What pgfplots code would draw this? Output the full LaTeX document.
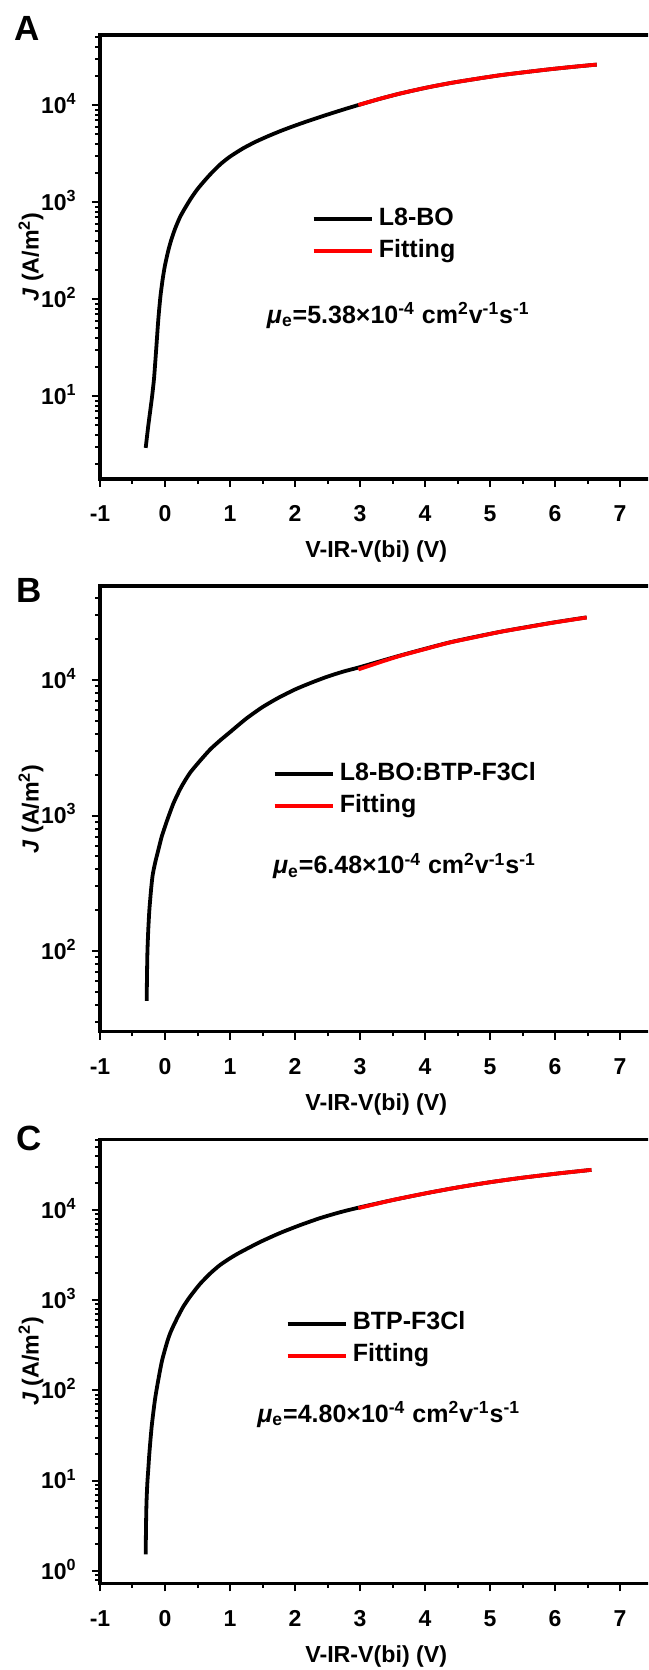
\documentclass[border=0pt]{standalone}
\usepackage{fontspec}
\setmainfont{Liberation Sans}
\usepackage{pgfplots}
\pgfplotsset{compat=1.18}
\definecolor{fitred}{RGB}{255,0,0}
\tikzset{
 datline/.style={black, line width=1.9pt},
 fitline/.style={fitred, line width=1.9pt},
 mu/.style={anchor=base west, inner sep=0pt, font=\fontsize{12.5}{15}\selectfont\bfseries},
 letter/.style={anchor=base west, inner sep=0pt, font=\fontsize{17.5}{20}\selectfont\bfseries},
}
\pgfplotsset{
 every axis/.append style={
  scale only axis, width=276.25pt,
  xmin=-1, xmax=7.5,
  axis line style={line width=1.7pt},
  tick align=outside, xtick pos=bottom, ytick pos=left,
  major tick length=4pt, minor tick length=2.3pt,
  every tick/.append style={black, line width=1pt},
  xtick={-1,0,1,2,3,4,5,6,7}, xticklabels={-1,0,1,2,3,4,5,6,7}, minor x tick num=1,
  tick label style={font=\fontsize{11.5}{14}\selectfont\bfseries},
  xticklabel style={anchor=base, inner sep=0pt, yshift=-17.5pt},
  yticklabel style={anchor=base east, inner sep=0pt, xshift=-7.5pt, yshift=-4.1pt},
  label style={font=\fontsize{11.6}{14}\selectfont\bfseries},
  xlabel={V-IR-V(bi) (V)},
  xlabel style={at={(axis description cs:0.5,0)}, anchor=base, yshift=-39.5pt},
  ylabel={\textit{J} (A/m\textsuperscript{2})},
  ylabel style={at={(axis description cs:-0.1250,0.5)}, anchor=center},
  legend cell align=left,
  legend style={draw=none, fill=none, inner sep=0pt, outer sep=0pt,
    font=\fontsize{12.5}{15}\selectfont\bfseries, row sep=4.9pt, column sep=2.6pt,
    nodes={inner sep=0pt, text height=8.6pt, text depth=2.5pt}, anchor=north west},
 },
 legend image code/.code={\draw[#1, line width=2pt] (0pt,0pt) -- (29pt,0pt);},
}
\begin{document}
\begin{tikzpicture}
\path[use as bounding box] (0,0) rectangle (324pt,835pt);
\clip (0,0) rectangle (324pt,835pt);
% ---------------- Panel A ----------------
\begin{axis}[at={(50pt,595.5pt)}, anchor=south west, height=222pt,
  ymode=log, ymin=1.4, ymax=53000,
  ytick={10,100,1000,10000},
  yticklabels={10\textsuperscript{1},10\textsuperscript{2},10\textsuperscript{3},10\textsuperscript{4}},
  minor ytick={2,3,4,5,6,7,8,9,20,30,40,50,60,70,80,90,200,300,400,500,600,700,800,900,2000,3000,4000,5000,6000,7000,8000,9000,20000,30000,40000,50000},
  legend style={at={(axis description cs:0.3832,0.6101)}}]
\addplot[datline, smooth, tension=0.4] coordinates {
(-0.297,2.931) (-0.26,4.786) (-0.231,6.761) (-0.20,9.772) (-0.169,15.14) (-0.138,28.84)
(-0.103,61.66) (-0.07,107.2) (-0.035,162.2) (0.0,223.9) (0.05,316.2) (0.10,416.9)
(0.16,543.3) (0.23,699.8) (0.30,851.1) (0.40,1096) (0.50,1365) (0.60,1641) (0.70,1950)
(0.85,2455) (1.0,2951) (1.2,3589) (1.4,4217) (1.6,4842) (1.8,5495) (2.0,6166) (2.2,6871)
(2.4,7621) (2.6,8414) (2.8,9268) (3.0,10162) (3.3,11614) (3.615,13183) (4.0,15066)
(4.385,16904) (4.77,18621) (5.154,20370) (5.54,21928) (5.923,23496) (6.28,24889) (6.641,26242)};
\addlegendentry{L8-BO}
\addplot[fitline, smooth, tension=0.4] coordinates {
(2.974,10046) (3.3,11614) (3.615,13183) (4.0,15066) (4.385,16904) (4.77,18621)
(5.154,20370) (5.54,21928) (5.923,23496) (6.28,24889) (6.641,26242)};
\addlegendentry{Fitting}
\node[mu] at (rel axis cs:0.3014,0.351) {\textit{μ}\textsubscript{e}=5.38×10\textsuperscript{-4} cm\textsuperscript{2}v\textsuperscript{-1}s\textsuperscript{-1}};
\end{axis}
% ---------------- Panel B ----------------
\begin{axis}[at={(50pt,319.15pt)}, anchor=south west, height=222.8pt,
  ymode=log, ymin=25.4, ymax=49300,
  ytick={100,1000,10000},
  yticklabels={10\textsuperscript{2},10\textsuperscript{3},10\textsuperscript{4}},
  minor ytick={30,40,50,60,70,80,90,200,300,400,500,600,700,800,900,2000,3000,4000,5000,6000,7000,8000,9000,20000,30000,40000},
  legend style={at={(axis description cs:0.3126,0.6028)}}]
\addplot[datline, smooth, tension=0.4] coordinates {
(-0.282,42.95) (-0.276,70.79) (-0.27,100) (-0.258,141.3) (-0.241,199.5) (-0.215,281.8)
(-0.19,363.1) (-0.15,451.9) (-0.103,555.9) (-0.05,699.8) (0.026,901.6) (0.13,1230)
(0.25,1622) (0.385,2065) (0.55,2570) (0.70,3090) (0.85,3589) (1.0,4121) (1.25,5188)
(1.5,6310) (1.75,7413) (2.0,8511) (2.25,9550) (2.5,10593) (2.75,11561) (3.0,12445)
(3.615,15136) (4.385,18967) (5.154,22646) (5.923,26303) (6.487,28973)};
\addlegendentry{L8-BO:BTP-F3Cl}
\addplot[fitline, smooth, tension=0.4] coordinates {
(2.974,11967) (3.3,13490) (3.615,15066) (4.0,16904) (4.385,18923) (4.77,20701)
(5.154,22646) (5.54,24378) (5.923,26242) (6.2,27542) (6.487,28907)};
\addlegendentry{Fitting}
\node[mu] at (rel axis cs:0.3126,0.354) {\textit{μ}\textsubscript{e}=6.48×10\textsuperscript{-4} cm\textsuperscript{2}v\textsuperscript{-1}s\textsuperscript{-1}};
\end{axis}
% ---------------- Panel C ----------------
\begin{axis}[at={(50pt,43.35pt)}, anchor=south west, height=221.85pt,
  ymode=log, ymin=0.73, ymax=60300,
  ytick={1,10,100,1000,10000},
  yticklabels={10\textsuperscript{0},10\textsuperscript{1},10\textsuperscript{2},10\textsuperscript{3},10\textsuperscript{4}},
  minor ytick={0.8,0.9,2,3,4,5,6,7,8,9,20,30,40,50,60,70,80,90,200,300,400,500,600,700,800,900,2000,3000,4000,5000,6000,7000,8000,9000,20000,30000,40000,50000,60000},
  legend style={at={(axis description cs:0.3361,0.6105)}}]
\addplot[datline, smooth, tension=0.4] coordinates {
(-0.297,1.531) (-0.292,3.162) (-0.285,5.623) (-0.272,9.333) (-0.255,14.13) (-0.241,19.95)
(-0.205,39.81) (-0.154,79.43) (-0.1,134.9) (-0.046,213.8) (0.026,331.1) (0.077,426.6)
(0.132,524.8) (0.2,660.7) (0.282,851.1) (0.385,1096) (0.538,1514) (0.7,1995) (0.846,2455)
(1.0,2917) (1.154,3388) (1.462,4416) (1.769,5559) (2.077,6792) (2.385,8128) (2.692,9441)
(3.0,10715) (3.5,12882) (4.01,15311) (4.5,17783) (5.0,20324) (5.5,22803) (6.01,25235) (6.3,26607) (6.56,27861)};
\addlegendentry{BTP-F3Cl}
\addplot[fitline, smooth, tension=0.4] coordinates {
(2.974,10471) (3.5,12882) (4.01,15311) (4.5,17783) (5.0,20324) (5.5,22803)
(6.01,25235) (6.3,26607) (6.56,27861)};
\addlegendentry{Fitting}
\node[mu] at (rel axis cs:0.2842,0.3635) {\textit{μ}\textsubscript{e}=4.80×10\textsuperscript{-4} cm\textsuperscript{2}v\textsuperscript{-1}s\textsuperscript{-1}};
\end{axis}
% panel letters
\node[letter] at (7pt,814.5pt) {A};
\node[letter] at (8pt,533.5pt) {B};
\node[letter] at (8pt,259.5pt) {C};
\end{tikzpicture}
\end{document}
